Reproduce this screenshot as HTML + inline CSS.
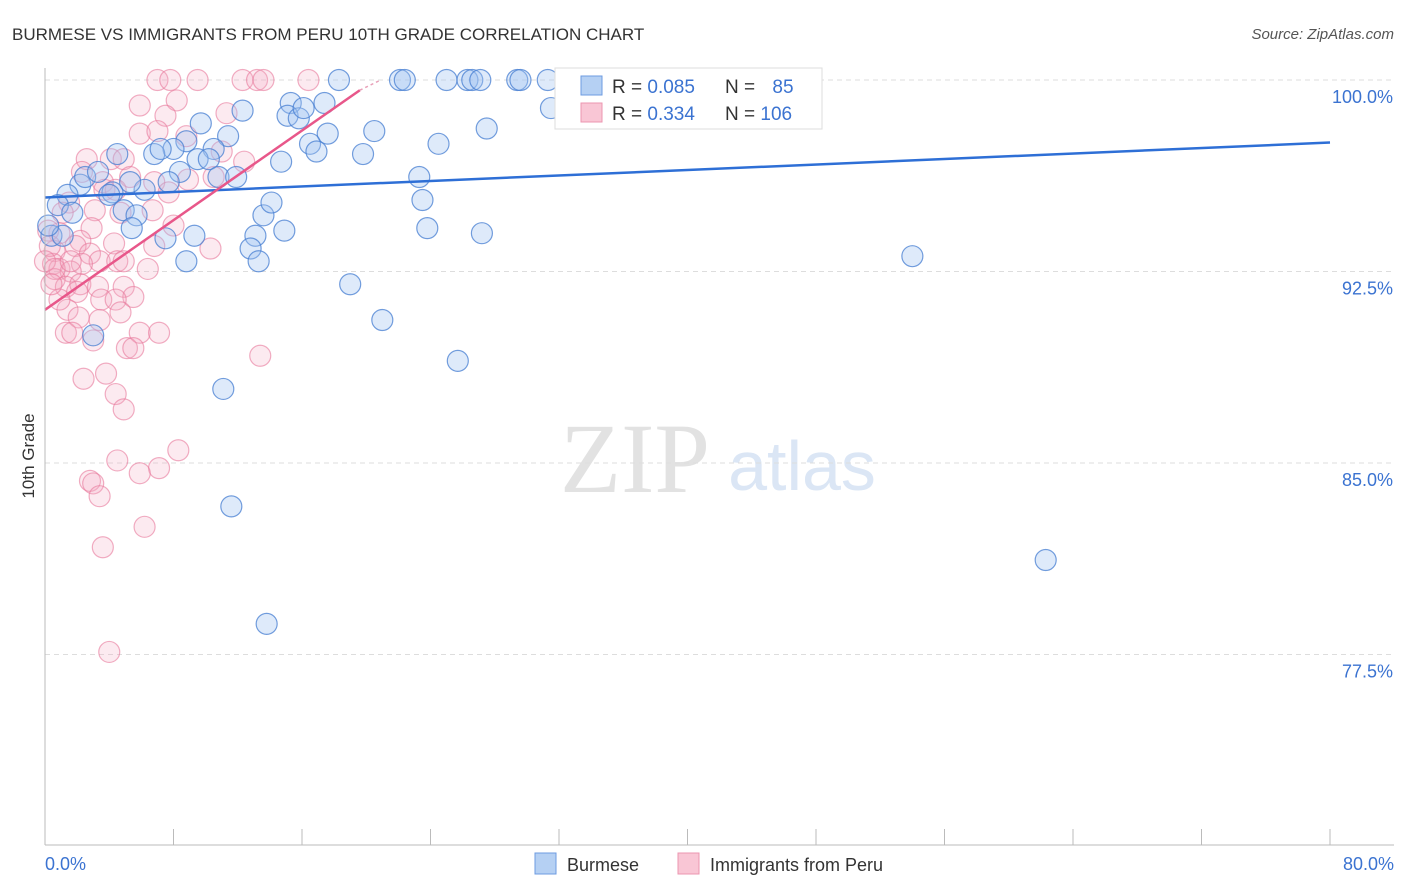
<!DOCTYPE html>
<html><head><meta charset="utf-8"><style>
body{margin:0;background:#fff;font-family:"Liberation Sans",sans-serif;}
#wrap{position:relative;width:1406px;height:892px;overflow:hidden;}
</style></head><body>
<div id="wrap">
<svg id="svg" width="1406" height="892">
<text x="12" y="40" font-size="17" fill="#333">BURMESE VS IMMIGRANTS FROM PERU 10TH GRADE CORRELATION CHART</text>
<text x="1394" y="39" font-size="15" fill="#555" font-style="italic" text-anchor="end">Source: ZipAtlas.com</text>
<text transform="translate(34,456) rotate(-90)" font-size="17" fill="#333" text-anchor="middle">10th Grade</text>
<text x="635" y="492" font-size="100" fill="#e2e2e2" font-family="Liberation Serif" text-anchor="middle">ZIP</text>
<text x="802" y="490" font-size="70" fill="#dbe6f5" text-anchor="middle">atlas</text>
<g id="grid"></g><g id="pts"></g><g id="lines"></g>
<line x1="45" y1="68" x2="45" y2="845" stroke="#bbb"/>
<line x1="45" y1="845" x2="1394" y2="845" stroke="#bbb"/>
<text x="45" y="870" font-size="18" fill="#3b73d1">0.0%</text>
<text x="1394" y="870" font-size="18" fill="#3b73d1" text-anchor="end">80.0%</text>
<g>
<rect x="555" y="68" width="267" height="61" fill="#fff" stroke="#ddd"/>
<rect x="581" y="76" width="21" height="19" fill="#b5d0f3" stroke="#6d9be0"/>
<rect x="581" y="103" width="21" height="19" fill="#f9c6d5" stroke="#ec96b0"/>
<text x="612" y="93" font-size="19" fill="#333">R = <tspan fill="#3b73d1">0.085</tspan></text>
<text x="725" y="93" font-size="19" fill="#333">N = <tspan fill="#3b73d1" dx="12">85</tspan></text>
<text x="612" y="120" font-size="19" fill="#333">R = <tspan fill="#3b73d1">0.334</tspan></text>
<text x="725" y="120" font-size="19" fill="#333">N = <tspan fill="#3b73d1">106</tspan></text>
</g>
<g><rect x="535" y="853" width="21" height="21" fill="#b5d0f3" stroke="#6d9be0"/><text x="567" y="871" font-size="18" fill="#333">Burmese</text></g>
<g><rect x="678" y="853" width="21" height="21" fill="#f9c6d5" stroke="#ec96b0"/><text x="710" y="871" font-size="18" fill="#333">Immigrants from Peru</text></g>
</svg></div>
<script>
const yTicks=[100,92.5,85,77.5];
const yTickLabels=["100.0%","92.5%","85.0%","77.5%"];
const xTicks=[0,8,16,24,32,40,48,56,64,72,80];
const blueX=[18.3,22.1,22.4,25.0,26.3,26.6,27.1,29.4,29.6,31.3,37.5,31.5,12.3,15.3,17.4,9.7,15.1,15.8,16.1,20.5,27.5,17.6,24.5,11.4,8.8,8.0,6.8,4.5,7.2,10.5,9.5,10.2,14.7,16.5,16.9,19.8,8.4,10.8,11.9,7.7,6.2,5.3,4.2,4.0,2.2,2.5,3.3,1.4,0.8,1.7,0.4,1.1,4.9,5.7,5.4,7.5,9.3,8.8,13.1,12.8,13.3,13.6,14.1,14.9,23.3,23.5,23.8,27.2,54.0,19.0,21.0,25.7,3.0,11.1,11.6,13.8,62.3,0.2];
const blueY=[100,100,100,100,100,100,100,100,100,100,100,98.9,98.8,99.1,99.1,98.3,98.6,98.5,98.9,98.0,98.1,97.9,97.5,97.8,97.6,97.3,97.1,97.1,97.3,97.3,96.9,96.9,96.8,97.5,97.2,97.1,96.4,96.2,96.2,96.0,95.7,96.0,95.6,95.5,95.9,96.2,96.4,95.5,95.1,94.8,93.9,93.9,94.9,94.7,94.2,93.8,93.9,92.9,93.9,93.4,92.9,94.7,95.2,94.1,96.2,95.3,94.2,94.0,93.1,92.0,90.6,89.0,90.0,87.9,83.3,78.7,81.2,94.3];
const pinkX=[7.0,7.8,9.5,12.3,13.2,13.6,16.4,8.2,5.9,7.5,11.3,5.9,7.0,8.8,11.0,12.4,4.1,2.6,4.9,2.3,3.6,5.3,6.8,7.7,8.9,10.5,3.7,4.4,1.5,3.1,4.7,6.7,8.0,2.9,1.1,0.9,2.2,1.9,2.8,3.4,2.3,4.3,4.5,4.9,6.8,6.4,10.3,0.6,0.5,0.9,1.6,0.6,1.3,2.2,3.3,2.0,3.5,4.9,5.5,4.4,1.4,2.1,3.4,4.7,5.9,7.1,1.3,1.7,3.0,5.1,5.5,13.4,2.4,3.8,4.4,4.9,4.5,7.1,8.3,5.9,2.8,3.0,3.4,6.2,3.6,4.0,0.2,0.3,0.0,0.6,0.9,1.6,0.4];
const pinkY=[100,100,100,100,100,100,100,99.2,99.0,98.6,98.7,97.9,98.0,97.8,97.2,96.8,96.9,96.9,96.9,96.4,96.0,96.2,96.0,95.6,96.1,96.2,95.7,95.7,95.2,94.9,94.8,94.9,94.3,94.2,94.8,94.0,93.7,93.5,93.2,92.9,92.8,93.6,92.9,92.9,93.5,92.6,93.4,93.3,92.8,92.6,92.5,92.2,91.9,92.0,91.9,91.7,91.4,91.9,91.5,91.4,91.0,90.7,90.6,90.9,90.1,90.1,90.1,90.1,89.8,89.5,89.5,89.2,88.3,88.5,87.7,87.1,85.1,84.8,85.5,84.6,84.3,84.2,83.7,82.5,81.7,77.6,94.1,93.5,92.9,92.6,91.4,92.9,92.0];
const blueTrend=[[0,95.4],[80,97.55]];
const pinkTrend=[[0,91.0],[19.6,99.6]];
const pinkTrendExt=[[19.6,99.6],[20.9,100.0]];
const X=v=>45+v/80*1285, Y=v=>80+(100-v)*191.5/7.5;
const NS="http://www.w3.org/2000/svg";
function mk(t,a,p){const e=document.createElementNS(NS,t);for(const k in a)e.setAttribute(k,a[k]);p.appendChild(e);return e;}
const grid=document.getElementById('grid'),pts=document.getElementById('pts'),lines=document.getElementById('lines');
yTicks.forEach((t,i)=>{
 const l=mk('line',{x1:45,x2:1394,y1:Y(t),y2:Y(t),stroke:'#ddd','stroke-dasharray':'5,4'},grid);
 
 
 const tx=mk('text',{x:1393,y:Y(t)+23,'font-size':18,fill:'#3b73d1','text-anchor':'end'},grid);
 tx.textContent=yTickLabels[i];
 
 
});
xTicks.forEach(t=>{
 const l=mk('line',{x1:X(t),x2:X(t),y1:829,y2:845,stroke:'#bbb'},grid);
 
 
});
pinkX.forEach((x,i)=>{
 const c=mk('circle',{cx:X(x),cy:Y(pinkY[i]),r:10.5,fill:'rgba(245,170,195,0.25)',stroke:'rgba(232,120,155,0.6)','stroke-width':1.2},pts);
 
 
});
blueX.forEach((x,i)=>{
 const c=mk('circle',{cx:X(x),cy:Y(blueY[i]),r:10.5,fill:'rgba(160,195,240,0.35)',stroke:'rgba(70,125,210,0.75)','stroke-width':1.2},pts);
 
 
});
const b=mk('line',{x1:X(blueTrend[0][0]),y1:Y(blueTrend[0][1]),x2:X(blueTrend[1][0]),y2:Y(blueTrend[1][1]),stroke:'#2e6fd6','stroke-width':2.5},lines);


const p=mk('line',{x1:X(pinkTrend[0][0]),y1:Y(pinkTrend[0][1]),x2:X(pinkTrend[1][0]),y2:Y(pinkTrend[1][1]),stroke:'#e8578a','stroke-width':2.5},lines);


const pe=mk('line',{x1:X(pinkTrendExt[0][0]),y1:Y(pinkTrendExt[0][1]),x2:X(pinkTrendExt[1][0]),y2:Y(pinkTrendExt[1][1]),stroke:'#e8a0b8','stroke-width':1.5,'stroke-dasharray':'3,3'},lines);


</script>
</body></html>
